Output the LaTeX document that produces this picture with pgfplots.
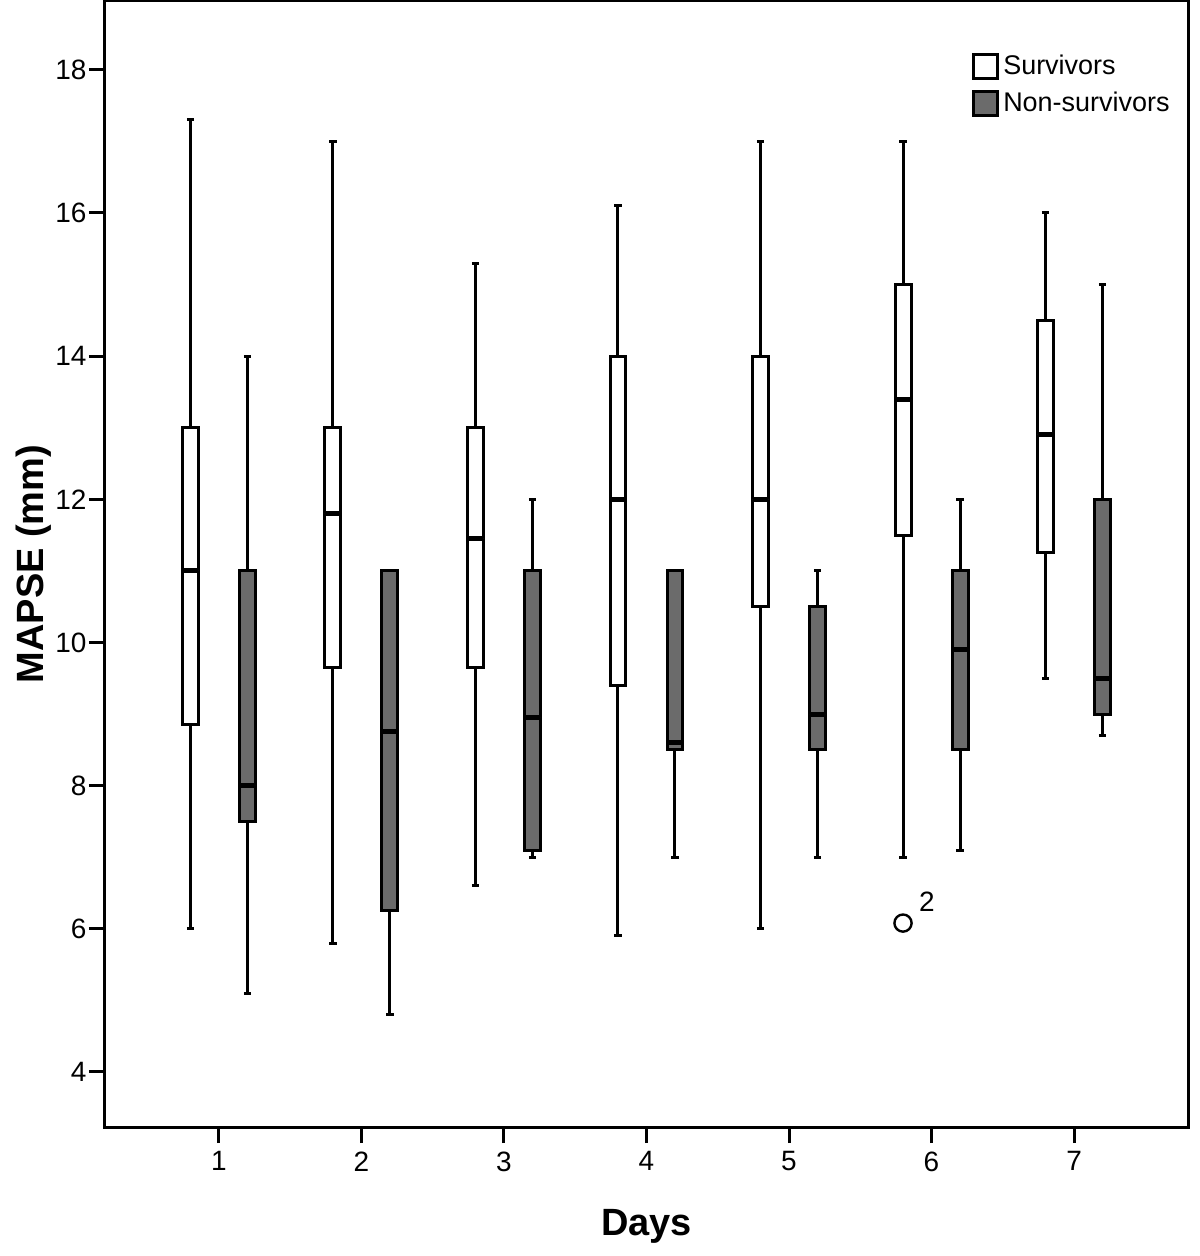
\documentclass[border=0pt]{standalone}
\usepackage{fontspec}
\setmainfont{Liberation Sans}
\usepackage{pgfplots}
\pgfplotsset{compat=1.18}
\usepgfplotslibrary{statistics}
\definecolor{nsgray}{HTML}{6B6B6B}
\pgfplotsset{
  bxbase/.style={forget plot, draw=black, line width=1.5pt, mark=none,
    boxplot/draw direction=y,
    boxplot/every median/.style={line width=2.5pt},
    boxplot/box extend=0.112, boxplot/whisker extend=0.05},
  surv/.style={bxbase, fill=white},
  nons/.style={bxbase, fill=nsgray},
}
\begin{document}
\begin{tikzpicture}
\begin{axis}[
  name=ax,
  scale only axis,
  width=542pt, height=563.5pt,
  xmin=0.2, xmax=7.8,
  ymin=3.23, ymax=18.96,
  xtick={1,...,7},
  ytick={4,6,...,18},
  tick align=outside,
  xtick pos=bottom, ytick pos=left,
  major tick length=8pt,
  every tick/.style={black, line width=1.5pt},
  axis line style={line width=1.5pt},
  tick label style={font=\fontsize{14}{16}\selectfont},
  yticklabel style={inner xsep=1pt},
  xticklabel style={inner ysep=4pt},
  /pgf/number format/assume math mode=true,
  xlabel={Days}, ylabel={MAPSE (mm)},
  label style={font=\fontsize{19}{22}\selectfont\bfseries},
  xlabel style={at={(axis description cs:0.5,-0.0878)}, anchor=center},
  ylabel style={at={(axis description cs:-0.0655,0.5)}, anchor=center},
  legend style={draw=none, fill=none, at={(1,1)}, anchor=north east,
    xshift=-4pt, yshift=-23pt, font=\fontsize{13.5}{16}\selectfont, row sep=3pt},
  legend cell align=left,
]
\addlegendimage{legend image code/.code={\draw[line width=1.5pt, draw=black, fill=white] (0pt,-6pt) rectangle (12pt,6pt);}}
\addlegendentry{Survivors}
\addlegendimage{legend image code/.code={\draw[line width=1.5pt, draw=black, fill=nsgray] (0pt,-6pt) rectangle (12pt,6pt);}}
\addlegendentry{Non-survivors}

% Day 1
\addplot[surv, boxplot prepared={draw position=0.8, lower whisker=6.0, lower quartile=8.85, median=11.0, upper quartile=13.0, upper whisker=17.3}] coordinates {};
\addplot[nons, boxplot prepared={draw position=1.2, lower whisker=5.1, lower quartile=7.5, median=8.0, upper quartile=11.0, upper whisker=14.0}] coordinates {};
% Day 2
\addplot[surv, boxplot prepared={draw position=1.8, lower whisker=5.8, lower quartile=9.65, median=11.8, upper quartile=13.0, upper whisker=17.0}] coordinates {};
\addplot[nons, boxplot prepared={draw position=2.2, lower whisker=4.8, lower quartile=6.25, median=8.75, upper quartile=11.0, upper whisker=11.0}] coordinates {};
% Day 3
\addplot[surv, boxplot prepared={draw position=2.8, lower whisker=6.6, lower quartile=9.65, median=11.45, upper quartile=13.0, upper whisker=15.3}] coordinates {};
\addplot[nons, boxplot prepared={draw position=3.2, lower whisker=7.0, lower quartile=7.1, median=8.95, upper quartile=11.0, upper whisker=12.0}] coordinates {};
% Day 4
\addplot[surv, boxplot prepared={draw position=3.8, lower whisker=5.9, lower quartile=9.4, median=12.0, upper quartile=14.0, upper whisker=16.1}] coordinates {};
\addplot[nons, boxplot prepared={draw position=4.2, lower whisker=7.0, lower quartile=8.5, median=8.6, upper quartile=11.0, upper whisker=11.0}] coordinates {};
% Day 5
\addplot[surv, boxplot prepared={draw position=4.8, lower whisker=6.0, lower quartile=10.5, median=12.0, upper quartile=14.0, upper whisker=17.0}] coordinates {};
\addplot[nons, boxplot prepared={draw position=5.2, lower whisker=7.0, lower quartile=8.5, median=9.0, upper quartile=10.5, upper whisker=11.0}] coordinates {};
% Day 6
\addplot[surv, boxplot prepared={draw position=5.8, lower whisker=7.0, lower quartile=11.5, median=13.4, upper quartile=15.0, upper whisker=17.0}] coordinates {};
\addplot[nons, boxplot prepared={draw position=6.2, lower whisker=7.1, lower quartile=8.5, median=9.9, upper quartile=11.0, upper whisker=12.0}] coordinates {};
% Day 7
\addplot[surv, boxplot prepared={draw position=6.8, lower whisker=9.5, lower quartile=11.25, median=12.9, upper quartile=14.5, upper whisker=16.0}] coordinates {};
\addplot[nons, boxplot prepared={draw position=7.2, lower whisker=8.7, lower quartile=9.0, median=9.5, upper quartile=12.0, upper whisker=15.0}] coordinates {};

% Outlier
\addplot[forget plot, only marks, mark=o, mark size=4.3pt, line width=1.2pt, black,
  nodes near coords={2},
  every node near coord/.style={anchor=center, xshift=12pt, yshift=10.5pt, font=\fontsize{14}{16}\selectfont, black}]
  coordinates {(5.8,6.08)};
\end{axis}
\pgfresetboundingbox
\path[use as bounding box] ([shift={(-52.5pt,-64.5pt)}]ax.south west) rectangle ([shift={(5.5pt,0.5pt)}]ax.north east);
\end{tikzpicture}
\end{document}
